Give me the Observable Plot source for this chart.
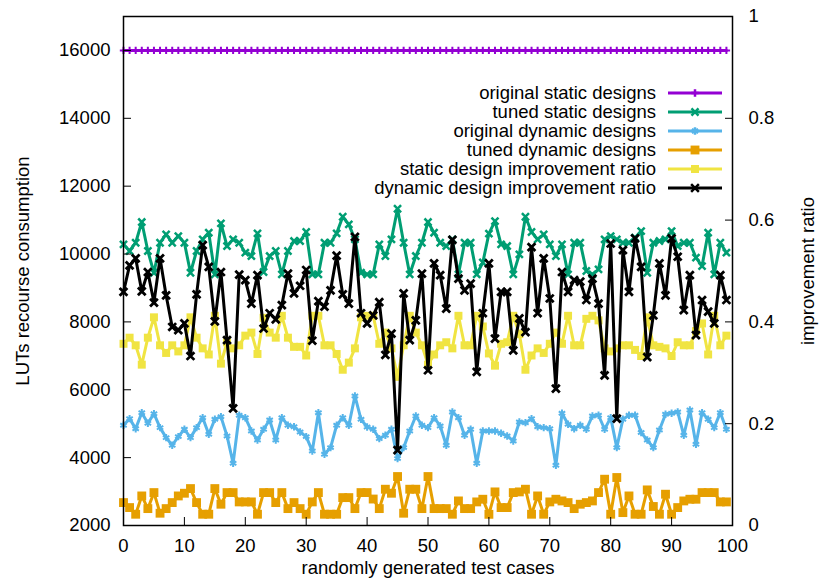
<!DOCTYPE html>
<html><head><meta charset="utf-8">
<script src="https://cdn.jsdelivr.net/npm/d3@7"></script>
<script src="https://cdn.jsdelivr.net/npm/@observablehq/plot@0.6"></script>
<style>
body{margin:0;background:#fff;}
#wrap{position:relative;width:819px;height:585px;font-family:"Liberation Sans",Arial,Helvetica,sans-serif;}
#wrap svg{position:absolute;left:0;top:0;}
</style></head><body><div id="wrap"></div>
<script>
const testCases = d3.range(100);
const originalStatic = [16000,16000,16000,16000,16000,16000,16000,16000,16000,16000,
16000,16000,16000,16000,16000,16000,16000,16000,16000,16000,
16000,16000,16000,16000,16000,16000,16000,16000,16000,16000,
16000,16000,16000,16000,16000,16000,16000,16000,16000,16000,
16000,16000,16000,16000,16000,16000,16000,16000,16000,16000,
16000,16000,16000,16000,16000,16000,16000,16000,16000,16000,
16000,16000,16000,16000,16000,16000,16000,16000,16000,16000,
16000,16000,16000,16000,16000,16000,16000,16000,16000,16000,
16000,16000,16000,16000,16000,16000,16000,16000,16000,16000,
16000,16000,16000,16000,16000,16000,16000,16000,16000,16000];
const tunedStatic = [10286,10089,10333,10943,10089,9449,10333,10580,10333,10530,
10333,9449,10089,10433,10628,9402,10904,10236,10433,10333,
10039,9941,10610,9470,9941,10089,9402,10089,10383,10383,
10649,9402,9402,10333,10333,10610,11099,10875,10433,9449,
9402,9402,10286,9941,10433,11334,10333,9402,9941,10333,
10943,10628,10333,10236,10433,9402,10333,10333,9402,9750,
10600,10972,10286,10236,9402,9991,11099,10649,10433,10580,
10286,9941,10286,9402,10333,10333,9500,9402,9549,10433,
10530,10433,10333,10333,10481,10677,9449,10333,10383,10433,
10677,10236,10333,10333,9892,9646,10628,9402,10333,10039];
const originalDynamic = [4954,5149,4854,5325,5013,5296,4884,4589,4365,4619,
4836,4589,4884,5178,4689,5131,5208,4639,3835,5249,
5178,4786,4521,4836,5110,4521,5178,4954,4913,4757,
4619,4197,5325,4100,4295,4954,5178,4954,5817,5131,
4900,4836,4560,4659,4836,3971,4295,4786,5228,4954,
4884,5178,4934,4365,5346,5178,4659,4836,3835,4786,
4786,4786,4720,4639,4492,5051,5031,5149,4913,4884,
4854,3776,5307,4984,4854,4954,4836,5228,5249,4836,
5178,4295,5131,5249,5249,4738,4521,4295,4816,5278,
5307,5346,4659,5405,4394,5325,5131,4884,5325,4836];
const tunedDynamic = [2675,2528,2332,2871,2498,2970,2362,2498,2675,2871,
2951,3088,2675,2332,2332,3088,2627,2970,2970,2695,
2695,2695,2332,2970,2970,2675,2970,2498,2675,2498,
2332,2695,2970,2332,2332,2332,2822,2822,2498,2970,
2970,2780,2498,3069,2951,3443,2362,3069,3069,2498,
3443,2498,2498,2498,2332,2724,2498,2498,2695,2774,
2330,2990,2528,2528,2970,2990,3069,2332,2871,2332,
2695,2774,2724,2675,2498,2627,2675,2724,2970,3364,
2332,3414,2380,2871,2332,2332,3049,2560,2332,2922,
2332,2528,2724,2774,2774,2970,2970,2970,2695,2695];
const staticRatio = [0.357,0.369,0.354,0.316,0.369,0.409,0.354,0.339,0.354,0.342,
0.354,0.409,0.369,0.348,0.336,0.412,0.318,0.360,0.348,0.354,
0.373,0.379,0.337,0.408,0.379,0.369,0.412,0.369,0.351,0.351,
0.334,0.412,0.412,0.354,0.354,0.337,0.306,0.320,0.348,0.409,
0.412,0.412,0.357,0.379,0.348,0.292,0.354,0.412,0.379,0.354,
0.316,0.336,0.354,0.360,0.348,0.412,0.354,0.354,0.412,0.391,
0.338,0.314,0.357,0.360,0.412,0.376,0.306,0.334,0.348,0.339,
0.357,0.379,0.357,0.412,0.354,0.354,0.406,0.412,0.403,0.348,
0.342,0.348,0.354,0.354,0.345,0.333,0.409,0.354,0.351,0.348,
0.333,0.360,0.354,0.354,0.382,0.397,0.336,0.412,0.354,0.373];
const dynamicRatio = [0.459,0.511,0.525,0.460,0.498,0.438,0.525,0.452,0.390,0.384,
0.397,0.333,0.454,0.551,0.508,0.401,0.498,0.364,0.230,0.493,
0.482,0.436,0.492,0.387,0.417,0.405,0.433,0.495,0.456,0.471,
0.502,0.363,0.441,0.430,0.462,0.530,0.454,0.436,0.567,0.417,
0.397,0.413,0.439,0.335,0.377,0.148,0.456,0.364,0.403,0.495,
0.305,0.515,0.492,0.426,0.561,0.485,0.462,0.475,0.302,0.417,
0.515,0.367,0.459,0.459,0.344,0.407,0.380,0.547,0.417,0.525,
0.446,0.269,0.498,0.459,0.482,0.479,0.443,0.485,0.436,0.295,
0.554,0.210,0.541,0.459,0.564,0.508,0.331,0.413,0.515,0.452,
0.564,0.528,0.423,0.492,0.374,0.443,0.420,0.397,0.492,0.443];

const xTicks = [0,10,20,30,40,50,60,70,80,90,100];
const leftTicks = [2000,4000,6000,8000,10000,12000,14000,16000];
const rightTicks = [0,0.2,0.4,0.6,0.8,1];
const xLabel = "randomly generated test cases";
const yLabel = "LUTs recourse consumption";
const y2Label = "improvement ratio";
const seriesNames = ["original static designs","tuned static designs","original dynamic designs","tuned dynamic designs","static design improvement ratio","dynamic design improvement ratio"];
const seriesColors = ["#9400d3","#009e73","#56b4e9","#e69f00","#f0e442","#000000"];
const seriesSymbols = ["plus","times","asterisk","square","square","times"];

const W = 819, H = 585;
const FS = 18.5;
const margins = {marginLeft:123, marginRight:87, marginTop:16, marginBottom:60};
const baseStyle = {fontFamily:'"Liberation Sans", Arial, Helvetica, sans-serif', fontSize: FS + "px", color:"#000", overflow:"visible"};

function series(values, k, r, sw) {
  const sym = seriesSymbols[k], col = seriesColors[k];
  const filled = sym === "square";
  return [
    Plot.line(testCases, {x: d => d, y: d => values[d], stroke: col, strokeWidth: 3, strokeLinejoin: "miter"}),
    Plot.dot(testCases, {x: d => d, y: d => values[d], symbol: sym, r,
      fill: filled ? col : "none", stroke: filled ? "none" : col, strokeWidth: sw})
  ];
}

const lowerPlot = Plot.plot({
  width: W, height: H, ...margins,
  style: {...baseStyle, background: "#fff"},
  x: {domain: [0, 100], label: null},
  y: {domain: [2000, 17000], label: null},
  marks: [
    ...series(originalStatic, 0, 2.5, 2),
    ...series(tunedStatic, 1, 3.3, 2.5),
    ...series(originalDynamic, 2, 3.5, 2),
    ...series(tunedDynamic, 3, 5, 0),
    Plot.axisY(leftTicks, {anchor: "left", tickSize: -8, tickPadding: 21, tickFormat: d => String(d), label: null, fontSize: FS}),
    Plot.axisX(xTicks, {anchor: "bottom", tickSize: -8, tickPadding: 21, tickFormat: d => String(d), label: null, fontSize: FS}),
    Plot.text([yLabel], {frameAnchor: "left", dx: -100, rotate: -90, textAnchor: "middle", lineAnchor: "middle", text: d => d, fontSize: FS}),
    Plot.text([xLabel], {frameAnchor: "bottom", dy: 43, textAnchor: "middle", lineAnchor: "middle", text: d => d, fontSize: FS})
  ]
});

const upperPlot = Plot.plot({
  width: W, height: H, ...margins,
  style: {...baseStyle, background: "none"},
  x: {domain: [0, 100], label: null, axis: null},
  y: {domain: [0, 1], label: null},
  marks: [
    ...series(staticRatio, 4, 4.5, 0),
    ...series(dynamicRatio, 5, 3.6, 2.8),
    Plot.axisY(rightTicks, {anchor: "right", tickSize: -8, tickPadding: 24, tickFormat: d => String(d), label: null, fontSize: FS}),
    Plot.text([y2Label], {frameAnchor: "right", dx: 76, rotate: -90, textAnchor: "middle", lineAnchor: "middle", text: d => d, fontSize: FS}),
    Plot.frame({stroke: "#000", strokeWidth: 1.5})
  ]
});

const wrap = document.getElementById("wrap");
wrap.appendChild(lowerPlot);
wrap.appendChild(upperPlot);

// legend
const legend = d3.select(wrap).append("svg").attr("width", W).attr("height", H)
  .style("font-family", '"Liberation Sans", Arial, Helvetica, sans-serif').style("font-size", FS + "px");
const rowY = [93, 112, 131, 150, 169, 188];
const symR = [2.5, 3.3, 3.5, 5, 4.5, 3.6];
const symMap = {plus: d3.symbolPlus, times: d3.symbolTimes, asterisk: d3.symbolAsterisk, square: d3.symbolSquare};
seriesNames.forEach((name, k) => {
  const y = rowY[k];
  legend.append("text").attr("x", 656).attr("y", y).attr("dy", "0.35em").attr("text-anchor", "end").attr("fill", "#000").text(name);
  legend.append("line").attr("x1", 668).attr("x2", 722).attr("y1", y).attr("y2", y).attr("stroke", seriesColors[k]).attr("stroke-width", 3);
  const filled = seriesSymbols[k] === "square";
  legend.append("path").attr("transform", `translate(695,${y})`)
    .attr("d", d3.symbol(symMap[seriesSymbols[k]], symR[k] * symR[k] * Math.PI)())
    .attr("fill", filled ? seriesColors[k] : "none").attr("stroke", filled ? "none" : seriesColors[k]).attr("stroke-width", 2.5);
});
</script></body></html>
